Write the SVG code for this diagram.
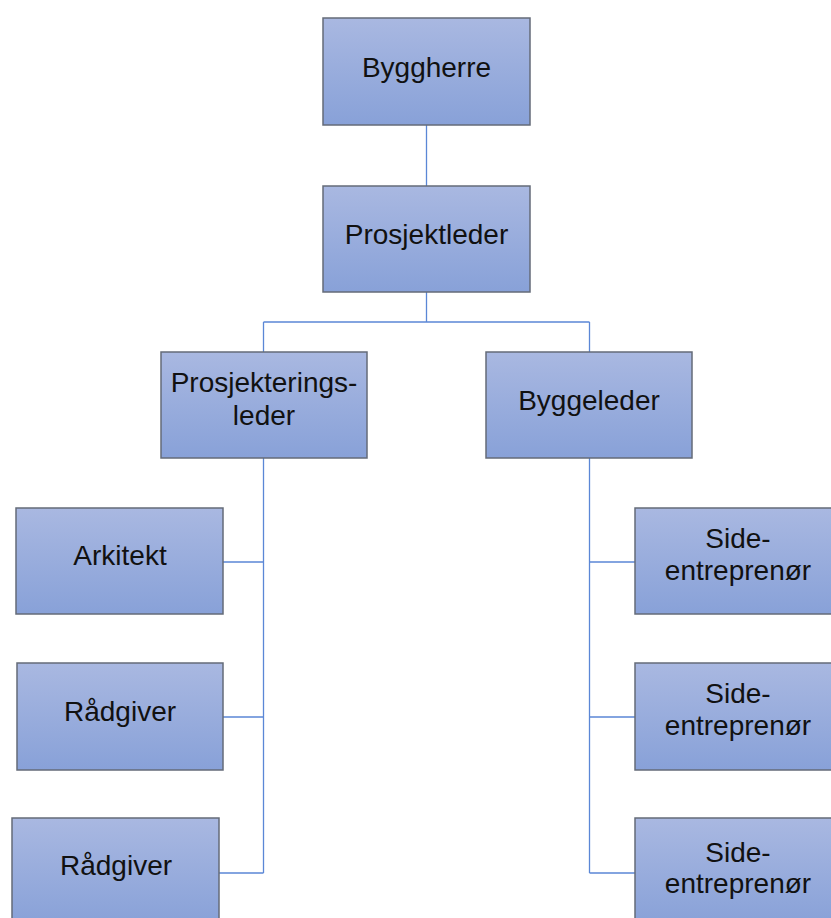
<svg xmlns="http://www.w3.org/2000/svg" width="831" height="918" viewBox="0 0 831 918">
<defs>
<linearGradient id="g" x1="0" y1="0" x2="0" y2="1">
<stop offset="0" stop-color="#a9b8e1"/>
<stop offset="1" stop-color="#88a1d8"/>
</linearGradient>
<style>
.box{fill:url(#g);stroke:#646b78;stroke-width:1.5}
.t{font-family:"Liberation Sans",Arial,sans-serif;font-size:28px;fill:#111;text-anchor:middle}
.c{fill:none;stroke:#5b87d6;stroke-width:1.3}
</style>
</defs>
<rect width="831" height="918" fill="#fff"/>
<g id="connectors">
<path class="c" d="M426.5 125V186"/>
<path class="c" d="M426.5 292V322M263.5 322H589.5M263.5 322V352M589.5 322V352"/>
<path class="c" d="M263.5 458V873M223 562H263.5M223 717H263.5M219 873H263.5"/>
<path class="c" d="M589.5 458V873M589.5 562H635M589.5 717H635M589.5 873H635"/>
</g>
<g id="byggherre"><rect class="box" x="323" y="18" width="207" height="107"/><text class="t" x="426.5" y="77">Byggherre</text></g>
<g id="prosjektleder"><rect class="box" x="323" y="186" width="207" height="106"/><text class="t" x="426.5" y="244">Prosjektleder</text></g>
<g id="prosjekteringsleder"><rect class="box" x="161" y="352" width="206" height="106"/><text class="t" x="264" y="392">Prosjekterings-</text><text class="t" x="264" y="425">leder</text></g>
<g id="byggeleder"><rect class="box" x="486" y="352" width="206" height="106"/><text class="t" x="589" y="410">Byggeleder</text></g>
<g id="arkitekt"><rect class="box" x="16" y="508" width="207" height="106"/><text class="t" x="120" y="565">Arkitekt</text></g>
<g id="radgiver1"><rect class="box" x="17" y="663" width="206" height="107"/><text class="t" x="120" y="721">Rådgiver</text></g>
<g id="radgiver2"><rect class="box" x="12" y="818" width="207" height="107"/><text class="t" x="116" y="875">Rådgiver</text></g>
<g id="side1"><rect class="box" x="635" y="508" width="207" height="106"/><text class="t" x="738" y="548">Side-</text><text class="t" x="738" y="580">entreprenør</text></g>
<g id="side2"><rect class="box" x="635" y="663" width="207" height="107"/><text class="t" x="738" y="703">Side-</text><text class="t" x="738" y="735">entreprenør</text></g>
<g id="side3"><rect class="box" x="635" y="818" width="207" height="107"/><text class="t" x="738" y="862">Side-</text><text class="t" x="738" y="893">entreprenør</text></g>
</svg>
